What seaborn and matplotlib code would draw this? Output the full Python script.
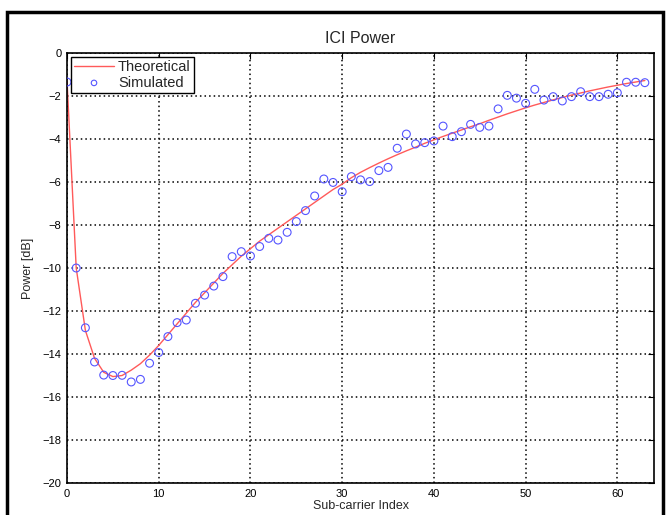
import numpy as np
import pandas as pd
import matplotlib
matplotlib.use("Agg")
import matplotlib.pyplot as plt
import seaborn as sns
from matplotlib.patches import Rectangle

# datos
indices = list(range(64))
teorico = [-1.3, -10.0, -12.9, -14.2, -14.85, -15.05, -15.0, -14.75, -14.45, -14.05,
           -13.6, -13.1, -12.6, -12.1, -11.6, -11.15, -10.7, -10.25, -9.85, -9.45,
           -9.1, -8.75, -8.45, -8.15, -7.85, -7.55, -7.25, -6.95, -6.65, -6.35,
           -6.1, -5.8, -5.55, -5.33, -5.12, -4.92, -4.73, -4.55, -4.38, -4.2,
           -4.04, -3.88, -3.73, -3.58, -3.43, -3.29, -3.13, -2.98, -2.83, -2.69,
           -2.55, -2.42, -2.3, -2.18, -2.07, -1.96, -1.86, -1.76, -1.67, -1.58,
           -1.5, -1.42, -1.35, -1.28]
simulado = [-1.35, -10.0, -12.78, -14.37, -14.98, -15.0, -14.99, -15.3, -15.18, -14.43,
            -13.93, -13.19, -12.54, -12.42, -11.64, -11.26, -10.84, -10.4, -9.47, -9.24,
            -9.44, -9.0, -8.62, -8.7, -8.34, -7.84, -7.33, -6.65, -5.86, -6.02,
            -6.45, -5.75, -5.9, -5.98, -5.47, -5.32, -4.43, -3.77, -4.23, -4.17,
            -4.09, -3.4, -3.89, -3.66, -3.32, -3.46, -3.4, -2.6, -1.97, -2.1,
            -2.34, -1.69, -2.19, -2.03, -2.23, -2.03, -1.8, -2.03, -2.03, -1.92,
            -1.85, -1.36, -1.36, -1.38]
xticks = [0, 10, 20, 30, 40, 50, 60]
yticks = list(range(0, -22, -2))

df = pd.DataFrame({"idx": indices, "teo": teorico, "sim": simulado})

sns.set_style("white")
plt.rcParams["font.family"] = ["Liberation Sans", "DejaVu Sans"]

fig = plt.figure(figsize=(6.71, 5.15), dpi=100)
ax = fig.add_axes([0.0999, 0.0621, 0.8748, 0.835])

sns.lineplot(data=df, x="idx", y="teo", color="#ff5a5a", linewidth=1.0,
             label="Theoretical", ax=ax)
sns.scatterplot(data=df, x="idx", y="sim", marker="o", s=32,
                facecolors="none", edgecolor="#5555ff", linewidth=0.8,
                label="Simulated", ax=ax, zorder=3)

ax.set_xlim(0, 64)
ax.set_ylim(-20, 0)
ax.set_xticks(xticks)
ax.set_yticks(yticks)
ax.grid(True, color="black", linestyle=(0, (1, 2)), linewidth=1.1)
ax.tick_params(direction="in", length=4, top=True, right=True,
               labelsize=8, colors="black", pad=4)
for s in ax.spines.values():
    s.set_color("black")
    s.set_linewidth(1.2)

ax.set_title("ICI Power", fontsize=11.5, pad=7)
ax.set_xlabel("Sub-carrier Index", fontsize=9, labelpad=1)
ax.set_ylabel("Power [dB]", fontsize=9, labelpad=6)

leg = ax.legend(loc="upper left", fontsize=10.5, frameon=True, fancybox=False,
                framealpha=1, edgecolor="black", borderaxespad=0.3,
                handlelength=2.7, borderpad=0.2, labelspacing=0.1,
                handletextpad=0.3, markerscale=0.7)
leg.get_frame().set_linewidth(1.0)

# marco exterior negro
fig.patches.append(Rectangle((0.011, -0.02), 0.977, 0.997, transform=fig.transFigure,
                             fill=False, edgecolor="black", linewidth=2.5))

fig.savefig("out.png", dpi=100)
